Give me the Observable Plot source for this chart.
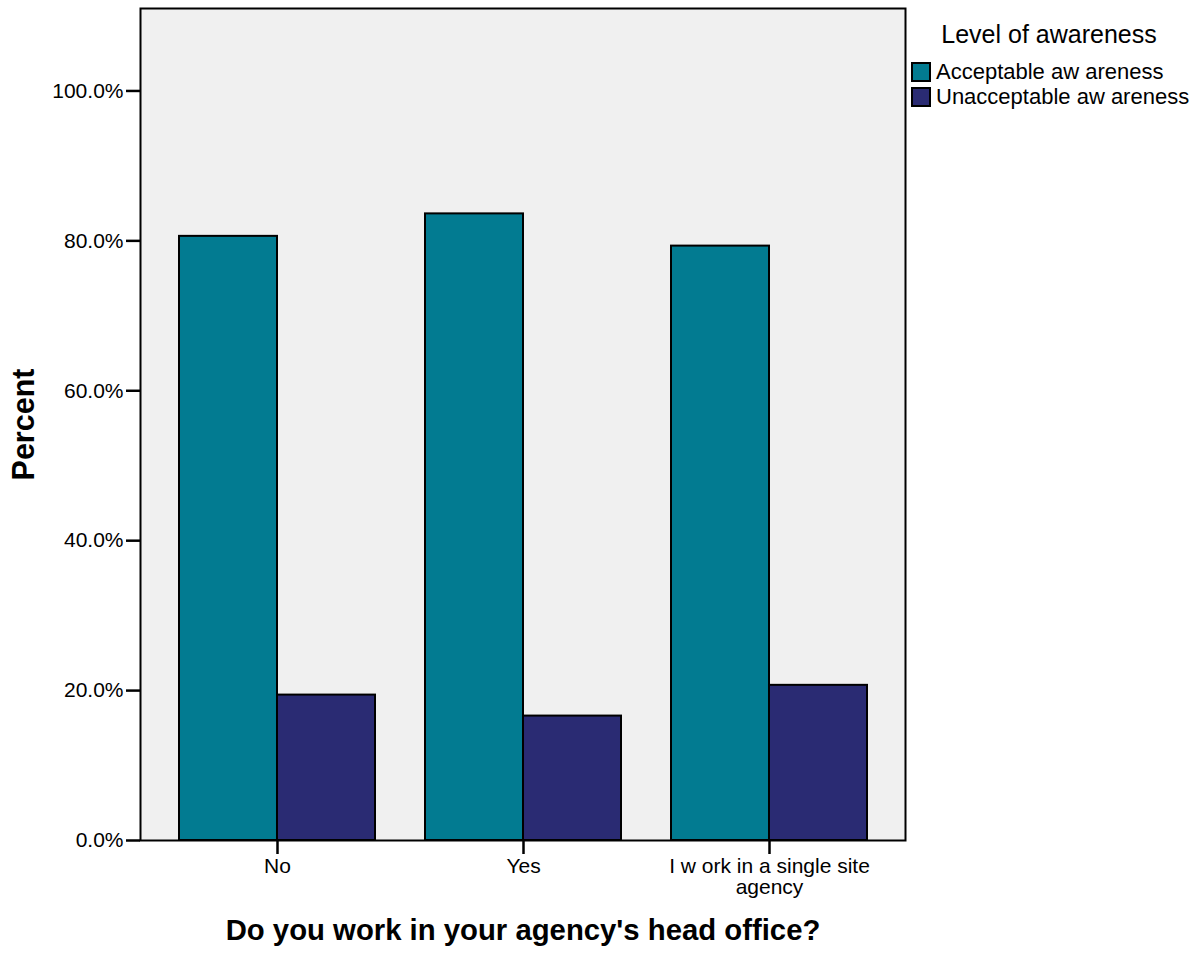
<!DOCTYPE html>
<html>
<head>
<meta charset="utf-8">
<script src="https://cdn.jsdelivr.net/npm/d3@7"></script>
<script src="https://cdn.jsdelivr.net/npm/@observablehq/plot@0.6"></script>
<style>
  html, body { margin: 0; padding: 0; background: #fff; }
  #wrap { position: relative; width: 1199px; height: 954px; font-family: "Liberation Sans", Arial, sans-serif; }
  #wrap svg { font-family: "Liberation Sans", Arial, sans-serif; }
  #wrap svg [aria-label="y-axis label"] text { font-weight: bold; font-size: 30.5px; }
  #wrap svg [aria-label="x-axis label"] text { font-weight: bold; font-size: 29.3px; }
  #legend { position: absolute; left: 911px; top: 19px; color: #000; }
  #legend .title { font-size: 25px; width: 276px; text-align: center; height: 30px; line-height: 30px; margin-bottom: 10px; }
  #legend .item { display: flex; align-items: center; font-size: 22px; height: 25px; line-height: 25px; }
  #legend .sw { width: 16px; height: 16px; border: 2px solid #000; margin-right: 5px; box-sizing: content-box; }
</style>
</head>
<body>
<div id="wrap"></div>
<script>
const categories = ["No", "Yes", "I w ork in a single site\nagency"];
const series = ["Acceptable aw areness", "Unacceptable aw areness"];
const acceptable = [80.6, 83.6, 79.3];
const unacceptable = [19.4, 16.6, 20.7];
const yTicks = [0, 20, 40, 60, 80, 100];
const colors = ["#027B91", "#2A2B73"];

const data = [];
categories.forEach((c, i) => {
  data.push({category: c, series: series[0], value: acceptable[i]});
  data.push({category: c, series: series[1], value: unacceptable[i]});
});

const W = 1199, H = 954;
const mL = 140, mR = 294, mT = 8, mB = 114;
const pIn = 0.205, pOut = 0.154;
const step = (W - mL - mR) / (categories.length - pIn + 2 * pOut);
const half = step * (1 - pIn) / 2;

const chart = Plot.plot({
  width: W,
  height: H,
  marginLeft: mL,
  marginRight: mR,
  marginTop: mT,
  marginBottom: mB,
  style: {fontSize: "21px", fontFamily: "Liberation Sans, Arial, sans-serif", color: "#000"},
  x: {domain: categories, paddingInner: pIn, paddingOuter: pOut},
  y: {domain: [0, 111]},
  color: {domain: series, range: colors},
  marks: [
    Plot.frame({fill: "#F0F0F0", stroke: "none"}),
    Plot.barY(data.filter(d => d.series === series[0]), {x: "category", y: "value", fill: "series", stroke: "#000", strokeWidth: 2, insetRight: half}),
    Plot.barY(data.filter(d => d.series === series[1]), {x: "category", y: "value", fill: "series", stroke: "#000", strokeWidth: 2, insetLeft: half}),
    Plot.frame({stroke: "#000", strokeWidth: 2}),
    Plot.axisY({ticks: yTicks, tickFormat: d => d.toFixed(1) + "%", tickSize: 14, tickPadding: 3, strokeWidth: 2.5,
      label: "Percent", labelAnchor: "center", labelArrow: "none", labelOffset: 128, fontSize: 21}),
    Plot.axisX({tickSize: 14, tickPadding: 4, strokeWidth: 2.5, lineHeight: 1.0,
      label: "Do you work in your agency's head office?", labelAnchor: "center", labelArrow: "none", labelOffset: 99, fontSize: 21})
  ]
});
document.getElementById("wrap").appendChild(chart);

const leg = document.createElement("div");
leg.id = "legend";
leg.innerHTML = `<div class="title">Level of awareness</div>` +
  series.map((s, i) => `<div class="item"><span class="sw" style="background:${colors[i]}"></span>${s}</div>`).join("");
document.getElementById("wrap").appendChild(leg);
</script>
</body>
</html>
